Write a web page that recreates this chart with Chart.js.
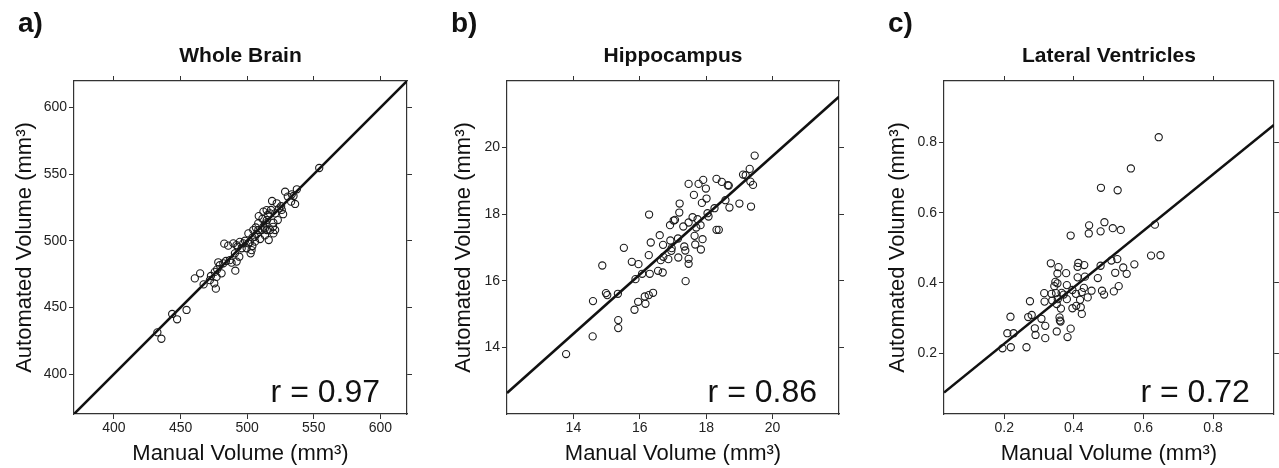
<!DOCTYPE html>
<html>
<head>
<meta charset="utf-8">
<script src="https://cdn.jsdelivr.net/npm/chart.js@4.4.1/dist/chart.umd.min.js"></script>
<style>
  body { margin: 0; background: #fff; }
  #wrap { position: relative; width: 1279px; height: 468px; overflow: hidden; }
  canvas { position: absolute; top: 0; }
</style>
</head>
<body>
<div id="wrap">
  <canvas id="brain" width="425" height="468" style="left:0"></canvas>
  <canvas id="hippo" width="425" height="468" style="left:425px"></canvas>
  <canvas id="ventr" width="429" height="468" style="left:850px"></canvas>
</div>
<script>
// a) whole brain, values in mm3
const brainManual = [554.1, 432.6, 435.6, 443.7, 447.4, 454.5, 460.7, 464.7, 467.3, 472.8,
  475.3, 476.5, 477.5, 478.3, 480.8, 482.1, 482.8, 485.8, 484.1, 488.3,
  491.1, 492.1, 492.8, 494.1, 495.9, 497.1, 498.4, 499.6, 500.9, 502.6,
  503.9, 503.9, 505.9, 507.2, 508.4, 509.7, 508.7, 510.9, 512.2, 513.4,
  513.9, 514.7, 515.4, 516.2, 517.2, 517.9, 518.7, 519.7, 521.0, 522.2,
  523.0, 524.0, 526.0, 528.5, 530.5, 533.0, 534.8, 536.0, 537.3, 533.5,
  519.7, 514.7, 504.6, 500.9, 517.2, 512.2, 521.0, 490.8, 489.6, 514.6,
  508.3, 513.3, 519.5, 505.8, 494.5, 492.0, 503.3, 487.0, 479.5, 475.7,
  477.0, 472.0, 511.5, 525.5, 527.0, 506.5, 502.0];
const brainAuto = [554.7, 431.3, 426.5, 445.1, 441.1, 448.1, 471.8, 475.6, 467.3, 473.6,
  468.1, 464.1, 478.6, 483.9, 475.6, 483.1, 497.9, 496.4, 484.9, 483.6,
  477.6, 484.4, 495.6, 488.1, 494.4, 498.1, 500.1, 494.4, 498.1, 490.6,
  496.1, 502.4, 499.4, 505.1, 508.1, 501.4, 518.6, 508.1, 510.6, 504.1,
  513.1, 515.6, 519.4, 500.6, 508.1, 523.2, 529.9, 513.6, 520.6, 528.2,
  515.6, 524.4, 523.2, 536.9, 533.2, 529.4, 533.7, 527.7, 538.7, 534.9,
  505.6, 508.1, 508.1, 505.6, 520.6, 521.9, 508.1, 490.6, 498.1, 523.1,
  513.1, 509.3, 510.5, 503.0, 499.2, 496.8, 493.0, 485.5, 481.7, 476.7,
  472.9, 470.5, 516.5, 526.0, 520.0, 510.0, 499.0];
const brainFitX = [370, 620];
const brainFitY = [370, 620];
const brainRange = [370, 620];
const brainTicks = [400, 450, 500, 550, 600];
const brainTickLabels = ['400', '450', '500', '550', '600'];

// b) hippocampus
const hippoManual = [13.78, 14.58, 14.59, 14.87, 14.98, 15.02, 15.34, 15.35, 15.35, 15.52,
  15.76, 15.84, 15.87, 15.96, 15.95, 16.07, 16.15, 16.17, 16.27, 16.30,
  16.27, 16.28, 16.33, 16.40, 16.60, 16.63, 16.69, 16.70, 16.71, 16.86,
  16.91, 16.92, 16.96, 17.02, 17.06, 17.15, 17.16, 17.19, 17.20, 17.31,
  17.34, 17.37, 17.38, 17.47, 17.47, 17.47, 17.47, 17.59, 17.63, 17.65,
  17.67, 17.74, 17.77, 17.83, 17.84, 17.87, 17.89, 17.91, 17.99, 18.01,
  18.04, 18.07, 18.25, 18.31, 18.31, 18.38, 18.47, 18.58, 18.65, 18.68,
  18.70, 19.00, 19.11, 19.19, 19.31, 19.33, 19.35, 19.41, 19.46, 16.55,
  17.70, 16.95];
const hippoAuto = [13.80, 14.33, 15.39, 16.46, 15.63, 15.57, 15.61, 14.82, 14.58, 16.99,
  16.57, 15.13, 16.05, 16.50, 15.37, 16.21, 15.53, 15.31, 15.57, 16.21,
  16.77, 17.99, 17.15, 15.64, 17.37, 16.62, 16.25, 17.08, 16.72, 16.65,
  17.67, 17.21, 16.98, 17.81, 17.83, 17.27, 16.70, 18.05, 18.32, 17.63,
  17.03, 16.91, 15.99, 16.66, 16.51, 18.91, 17.75, 17.91, 18.58, 17.35,
  17.09, 17.85, 18.91, 17.67, 16.94, 18.34, 17.25, 19.03, 18.77, 18.47,
  18.03, 17.93, 18.18, 19.06, 17.53, 17.53, 18.97, 18.42, 18.87, 18.86,
  18.20, 18.32, 19.19, 19.17, 19.36, 18.98, 18.23, 18.88, 19.76, 16.30,
  17.60, 16.90];
const hippoFitX = [12, 22];
const hippoFitY = [12.63, 21.53];
const hippoRange = [12, 22];
const hippoTicks = [14, 16, 18, 20];
const hippoTickLabels = ['14', '16', '18', '20'];

// c) lateral ventricles
const ventrManual = [0.644, 0.564, 0.478, 0.526, 0.488, 0.444, 0.512, 0.477, 0.535, 0.443,
  0.391, 0.633, 0.622, 0.649, 0.574, 0.334, 0.413, 0.430, 0.411, 0.356,
  0.477, 0.508, 0.525, 0.542, 0.552, 0.519, 0.353, 0.378, 0.411, 0.432,
  0.469, 0.347, 0.353, 0.380, 0.344, 0.429, 0.451, 0.481, 0.529, 0.515,
  0.487, 0.315, 0.336, 0.349, 0.365, 0.406, 0.423, 0.396, 0.371, 0.440,
  0.418, 0.380, 0.354, 0.338, 0.316, 0.274, 0.351, 0.363, 0.396, 0.407,
  0.420, 0.423, 0.269, 0.279, 0.218, 0.307, 0.359, 0.360, 0.362, 0.318,
  0.288, 0.391, 0.209, 0.227, 0.290, 0.351, 0.382, 0.318, 0.195, 0.219,
  0.264];
const ventrAuto = [0.815, 0.726, 0.671, 0.664, 0.573, 0.564, 0.556, 0.547, 0.551, 0.541,
  0.535, 0.566, 0.478, 0.479, 0.453, 0.456, 0.457, 0.451, 0.446, 0.445,
  0.449, 0.464, 0.468, 0.444, 0.426, 0.429, 0.427, 0.428, 0.416, 0.418,
  0.414, 0.403, 0.399, 0.394, 0.391, 0.386, 0.378, 0.378, 0.391, 0.376,
  0.367, 0.371, 0.369, 0.371, 0.372, 0.369, 0.374, 0.380, 0.367, 0.359,
  0.352, 0.354, 0.354, 0.350, 0.347, 0.348, 0.340, 0.327, 0.328, 0.335,
  0.331, 0.312, 0.303, 0.309, 0.304, 0.298, 0.302, 0.293, 0.290, 0.278,
  0.271, 0.270, 0.257, 0.257, 0.252, 0.262, 0.246, 0.243, 0.214, 0.217,
  0.217];
const ventrFitX = [0.027, 0.975];
const ventrFitY = [0.088, 0.850];
const ventrRange = [0.027, 0.975];
const ventrTicks = [0.2, 0.4, 0.6, 0.8];
const ventrTickLabels = ['0.2', '0.4', '0.6', '0.8'];

const FONT = "'Liberation Sans', Arial, Helvetica, sans-serif";
const INK = '#111';

// panel letter, title and r value
const panelText = {
  id: 'panelText',
  afterDraw(chart, args, o) {
    const { ctx, chartArea: a } = chart;
    ctx.save();
    ctx.fillStyle = INK;
    ctx.textBaseline = 'alphabetic';
    ctx.font = `bold 28px ${FONT}`;
    ctx.textAlign = 'left';
    ctx.fillText(o.letter, a.left - 56, 32);
    ctx.font = `bold 21px ${FONT}`;
    ctx.textAlign = 'center';
    ctx.fillText(o.title, (a.left + a.right) / 2, 62);
    ctx.font = `32px ${FONT}`;
    ctx.textAlign = 'right';
    ctx.fillText(o.r, a.right - o.rInset, a.bottom - 12);
    ctx.restore();
  }
};

const makeAxis = (p, position, size, labelled) => {
  const horizontal = position === 'top' || position === 'bottom';
  const axis = {
    type: 'linear',
    position: position,
    min: p.range[0],
    max: p.range[1],
    grid: { display: true, drawOnChartArea: false, drawTicks: true, tickLength: 5, color: '#333', lineWidth: 1 },
    border: { display: true, color: '#333', width: 1.2 },
    ticks: {
      display: labelled,
      padding: horizontal ? 1 : 2,
      color: '#222',
      font: { family: FONT, size: 14 },
      callback: (v, i) => p.labels[i]
    },
    afterBuildTicks: (scale) => { scale.ticks = p.ticks.map(v => ({ value: v })); },
    afterFit: (scale) => {
      if (horizontal) scale.height = size; else scale.width = size;
    }
  };
  if (position === 'bottom') {
    axis.title = { display: true, text: 'Manual Volume (mm³)', color: INK,
      font: { family: FONT, size: 22 }, padding: { top: 0, bottom: 1 } };
  }
  if (position === 'left') {
    axis.title = { display: true, text: 'Automated Volume (mm³)', color: INK,
      font: { family: FONT, size: 22 }, padding: { top: p.yTitlePad, bottom: 0 } };
  }
  return axis;
};

const makeChart = (id, p) => {
  new Chart(document.getElementById(id), {
    type: 'scatter',
    data: {
      datasets: [
        {
          data: p.manual.map((m, i) => ({ x: m, y: p.auto[i] })),
          pointStyle: 'circle',
          pointRadius: 3.6,
          pointBorderWidth: 1.1,
          pointBorderColor: '#1a1a1a',
          pointBackgroundColor: 'rgba(0,0,0,0)',
          xAxisID: 'x',
          yAxisID: 'y'
        },
        {
          data: p.fitX.map((x, i) => ({ x: x, y: p.fitY[i] })),
          showLine: true,
          borderColor: INK,
          borderWidth: 2.6,
          pointRadius: 0,
          xAxisID: 'x',
          yAxisID: 'y'
        }
      ]
    },
    options: {
      responsive: false,
      animation: false,
      events: [],
      layout: { padding: 0 },
      plugins: {
        legend: { display: false },
        tooltip: { enabled: false },
        panelText: { letter: p.letter, title: p.title, r: p.r, rInset: p.rInset }
      },
      scales: {
        x: makeAxis(p, 'bottom', 54, true),
        y: makeAxis(p, 'left', p.left, true),
        xTop: makeAxis(p, 'top', 81, false),
        yRight: makeAxis(p, 'right', p.right, false)
      }
    },
    plugins: [panelText]
  });
};

makeChart('brain', {
  manual: brainManual, auto: brainAuto, fitX: brainFitX, fitY: brainFitY,
  range: brainRange, ticks: brainTicks, labels: brainTickLabels,
  letter: 'a)', title: 'Whole Brain', r: 'r = 0.97', rInset: 27,
  left: 74, right: 18, yTitlePad: 12
});
makeChart('hippo', {
  manual: hippoManual, auto: hippoAuto, fitX: hippoFitX, fitY: hippoFitY,
  range: hippoRange, ticks: hippoTicks, labels: hippoTickLabels,
  letter: 'b)', title: 'Hippocampus', r: 'r = 0.86', rInset: 22,
  left: 82, right: 11, yTitlePad: 26
});
makeChart('ventr', {
  manual: ventrManual, auto: ventrAuto, fitX: ventrFitX, fitY: ventrFitY,
  range: ventrRange, ticks: ventrTicks, labels: ventrTickLabels,
  letter: 'c)', title: 'Lateral Ventricles', r: 'r = 0.72', rInset: 24,
  left: 94, right: 2, yTitlePad: 35
});
</script>
</body>
</html>
